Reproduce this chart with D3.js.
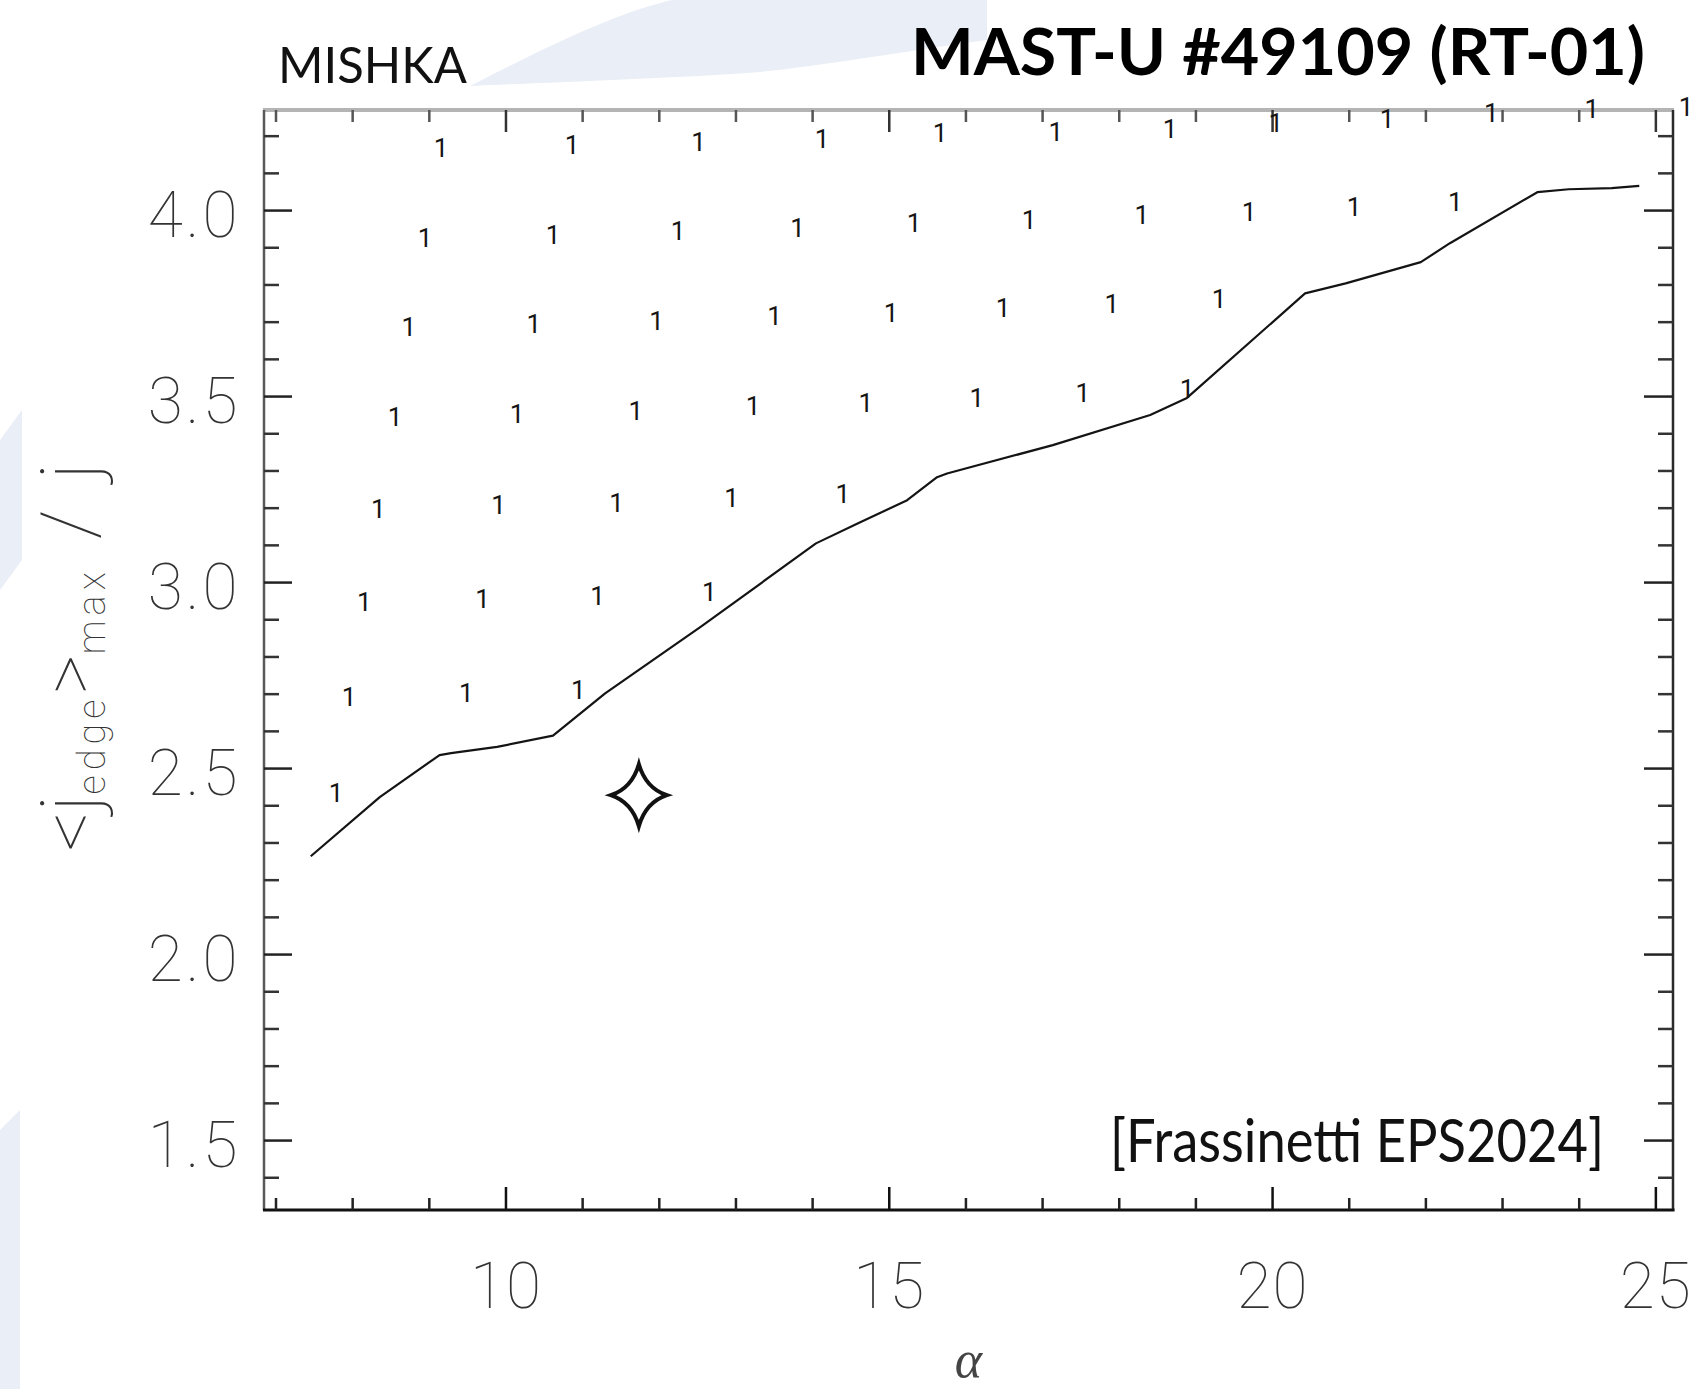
<!DOCTYPE html>
<html>
<head>
<meta charset="utf-8">
<script src="https://cdn.jsdelivr.net/npm/d3@7"></script>
<style>
  html, body { margin: 0; padding: 0; background: #ffffff; }
  svg { display: block; }
</style>
</head>
<body>
<svg id="chart" width="1692" height="1389"></svg>
<script>
// MISHKA peeling-ballooning stability scan, MAST-U #49109 (RT-01)

// Stability boundary: alpha vs <j_edge>_max / j
const boundaryAlpha = [7.46, 8.36, 9.14, 9.29, 9.89, 10.62, 11.30, 12.55, 14.05, 14.60,
                       15.24, 15.63, 15.76, 17.14, 18.41, 18.89, 20.43, 20.96, 21.94, 22.32,
                       23.46, 23.87, 24.43, 24.79];
const boundaryJ     = [2.263, 2.422, 2.535, 2.540, 2.557, 2.587, 2.701, 2.880, 3.104, 3.158,
                       3.220, 3.282, 3.292, 3.368, 3.449, 3.495, 3.776, 3.803, 3.860, 3.911,
                       4.048, 4.056, 4.059, 4.065];

// Unstable scan points (marked "1"), one scan row per line
const unstableAlpha = [
  9.16, 10.87, 12.52, 14.13, 15.67, 17.18, 18.67, 20.05, 21.50, 22.86, 24.17, 25.40,
  8.95, 10.62, 12.25, 13.81, 15.33, 16.83, 18.30, 19.70, 21.07, 22.39,
  8.74, 10.37, 11.97, 13.51, 15.03, 16.49, 17.91, 19.31,
  8.56, 10.15, 11.70, 13.23, 14.70, 16.15, 17.53, 18.89,
  8.34, 9.91, 11.45, 12.95, 14.40,
  8.16, 9.70, 11.20, 12.66,
  7.96, 9.49, 10.95,
  7.79
];
const unstableJ = [
  4.167, 4.175, 4.183, 4.191, 4.207, 4.210, 4.220, 4.234, 4.247, 4.263, 4.274, 4.277,
  3.927, 3.933, 3.944, 3.954, 3.965, 3.973, 3.987, 3.995, 4.008, 4.022,
  3.686, 3.696, 3.704, 3.715, 3.724, 3.737, 3.749, 3.761,
  3.446, 3.454, 3.462, 3.473, 3.481, 3.497, 3.508, 3.519,
  3.198, 3.207, 3.214, 3.226, 3.237,
  2.948, 2.956, 2.963, 2.973,
  2.691, 2.703, 2.712,
  2.433
];
const unstableMark = "1";

// Experimental operating point
const expAlpha = [11.74];
const expJ = [2.427];

// Axes
const xDomain = [6.85, 25.23];
const yDomain = [1.312, 4.269];
const xMajorTicks = [10, 15, 20, 25];
const xMinorTicks = [7, 8, 9, 11, 12, 13, 14, 16, 17, 18, 19, 21, 22, 23, 24];
const yMajorTicks = [1.5, 2.0, 2.5, 3.0, 3.5, 4.0];
const yMinorTicks = [1.4, 1.6, 1.7, 1.8, 1.9, 2.1, 2.2, 2.3, 2.4, 2.6, 2.7, 2.8, 2.9,
                     3.1, 3.2, 3.3, 3.4, 3.6, 3.7, 3.8, 3.9, 4.1, 4.2];

// Texts
const codeLabel = "MISHKA";
const shotTitle = "MAST-U #49109 (RT-01)";
const sourceNote = "[Frassinetti EPS2024]";
const xTitle = "α";

const svg = d3.select("#chart");
const W = 1692, H = 1389;
const plot = { left: 264, right: 1673, top: 110, bottom: 1210 };

svg.append("rect").attr("width", W).attr("height", H).attr("fill", "#ffffff");

// Faint slide backdrop shapes
const bg = svg.append("g").attr("fill", "#eaeef6");
bg.append("path").attr("d", "M470,86 C560,40 620,12 672,0 L987,0 L987,40 C900,52 820,66 760,72 C680,78 560,82 470,86 Z");
bg.append("path").attr("d", "M0,440 L22,410 L22,560 L0,590 Z");
bg.append("path").attr("d", "M0,1130 L20,1110 L20,1389 L0,1389 Z");

const x = d3.scaleLinear().domain(xDomain).range([plot.left, plot.right]);
const y = d3.scaleLinear().domain(yDomain).range([plot.bottom, plot.top]);

const tickFont = "Roboto, 'DejaVu Sans', sans-serif";

// Frame
const frame = svg.append("g").attr("fill", "none");
frame.append("line").attr("x1", plot.left - 1).attr("x2", plot.right + 1)
  .attr("y1", plot.top).attr("y2", plot.top).attr("stroke", "#b4b4b4").attr("stroke-width", 4);
frame.append("line").attr("x1", plot.left).attr("x2", plot.left)
  .attr("y1", plot.top).attr("y2", plot.bottom).attr("stroke", "#5a5a5a").attr("stroke-width", 2.5);
frame.append("line").attr("x1", plot.right).attr("x2", plot.right)
  .attr("y1", plot.top).attr("y2", plot.bottom + 1).attr("stroke", "#2a2a2a").attr("stroke-width", 2.5);
frame.append("line").attr("x1", plot.left - 1).attr("x2", plot.right + 1.5)
  .attr("y1", plot.bottom).attr("y2", plot.bottom).attr("stroke", "#111").attr("stroke-width", 3);

function styleAxis(g, color) {
  g.select(".domain").remove();
  g.selectAll(".tick line").attr("stroke", color).attr("stroke-width", 2.5);
}

// Bottom axis: ticks pointing inward, labels below
svg.append("g").attr("transform", `translate(0,${plot.bottom})`)
  .call(d3.axisBottom(x).tickValues(xMajorTicks).tickSize(-23).tickFormat(d3.format("d")))
  .call(g => styleAxis(g, "#111"))
  .call(g => g.selectAll(".tick text")
    .attr("font-family", tickFont).attr("font-weight", 100).attr("font-size", 64)
    .attr("letter-spacing", 1)
    .attr("fill", "#333").attr("dy", "0em").attr("y", 98));
svg.append("g").attr("transform", `translate(0,${plot.bottom})`)
  .call(d3.axisBottom(x).tickValues(xMinorTicks).tickSize(-12).tickFormat(""))
  .call(g => styleAxis(g, "#222"));

// Top axis
svg.append("g").attr("transform", `translate(0,${plot.top})`)
  .call(d3.axisTop(x).tickValues(xMajorTicks).tickSize(-22).tickFormat(""))
  .call(g => styleAxis(g, "#333"));
svg.append("g").attr("transform", `translate(0,${plot.top})`)
  .call(d3.axisTop(x).tickValues(xMinorTicks).tickSize(-12).tickFormat(""))
  .call(g => styleAxis(g, "#555"));

// Left axis
svg.append("g").attr("transform", `translate(${plot.left},0)`)
  .call(d3.axisLeft(y).tickValues(yMajorTicks).tickSize(-28).tickPadding(23.5).tickFormat(d3.format(".1f")))
  .call(g => styleAxis(g, "#222"))
  .call(g => g.selectAll(".tick text")
    .attr("font-family", tickFont).attr("font-weight", 100).attr("font-size", 64)
    .attr("letter-spacing", 3)
    .attr("fill", "#333").attr("dy", "0.42em"));
svg.append("g").attr("transform", `translate(${plot.left},0)`)
  .call(d3.axisLeft(y).tickValues(yMinorTicks).tickSize(-15).tickFormat(""))
  .call(g => styleAxis(g, "#333"));

// Right axis
svg.append("g").attr("transform", `translate(${plot.right},0)`)
  .call(d3.axisRight(y).tickValues(yMajorTicks).tickSize(-29).tickFormat(""))
  .call(g => styleAxis(g, "#222"));
svg.append("g").attr("transform", `translate(${plot.right},0)`)
  .call(d3.axisRight(y).tickValues(yMinorTicks).tickSize(-15).tickFormat(""))
  .call(g => styleAxis(g, "#333"));

// Stability boundary
const boundary = boundaryAlpha.map((a, i) => [a, boundaryJ[i]]);
svg.append("path")
  .datum(boundary)
  .attr("fill", "none")
  .attr("stroke", "#141414")
  .attr("stroke-width", 2.2)
  .attr("stroke-linejoin", "round")
  .attr("d", d3.line().x(d => x(d[0])).y(d => y(d[1])));

// Unstable points
const unstable = unstableAlpha.map((a, i) => [a, unstableJ[i]]);
svg.append("g")
  .selectAll("text")
  .data(unstable)
  .join("text")
  .attr("x", d => x(d[0]))
  .attr("y", d => y(d[1]))
  .attr("dy", "0.36em")
  .attr("text-anchor", "middle")
  .attr("font-family", "Roboto, 'Liberation Sans', sans-serif")
  .attr("font-size", 26)
  .attr("fill", "#151515")
  .text(unstableMark);

// Experimental point: four-pointed star
function fourStar(rx, ry, c) {
  return `M0,${-ry} Q${c},${-c} ${rx},0 Q${c},${c} 0,${ry} Q${-c},${c} ${-rx},0 Q${-c},${-c} 0,${-ry} Z`;
}
svg.append("g")
  .selectAll("path")
  .data(expAlpha.map((a, i) => [a, expJ[i]]))
  .join("path")
  .attr("transform", d => `translate(${x(d[0])},${y(d[1])})`)
  .attr("d", fourStar(28, 31, 7))
  .attr("fill", "#ffffff")
  .attr("stroke", "#111")
  .attr("stroke-width", 4)
  .attr("stroke-linejoin", "miter");

// Axis titles
svg.append("text")
  .attr("x", (plot.left + plot.right) / 2)
  .attr("y", 1377)
  .attr("text-anchor", "middle")
  .attr("font-family", "'Liberation Serif', 'DejaVu Serif', serif")
  .attr("font-style", "italic")
  .attr("font-size", 52)
  .attr("fill", "#444")
  .text(xTitle);

const yTitle = svg.append("text")
  .attr("transform", `translate(96,${(plot.top + plot.bottom) / 2 - 3}) rotate(-90)`)
  .attr("text-anchor", "middle")
  .attr("font-family", tickFont)
  .attr("font-weight", 100)
  .attr("font-size", 78)
  .attr("fill", "#333");
const sub = { size: 38, shift: "-9px", spacing: 5 };
yTitle.append("tspan").text("<");
yTitle.append("tspan").text("j");
yTitle.append("tspan").attr("font-size", sub.size).attr("baseline-shift", sub.shift)
  .attr("letter-spacing", sub.spacing).text("edge");
yTitle.append("tspan").text(">");
yTitle.append("tspan").attr("font-size", sub.size).attr("baseline-shift", sub.shift)
  .attr("letter-spacing", sub.spacing).text("max");
yTitle.append("tspan").attr("dx", 28).text("/");
yTitle.append("tspan").attr("dx", 30).text("j");

// Slide annotations
svg.append("text")
  .attr("x", 278).attr("y", 83)
  .attr("font-family", "Lato, 'Open Sans', sans-serif")
  .attr("font-size", 50)
  .attr("fill", "#111")
  .attr("textLength", 189).attr("lengthAdjust", "spacingAndGlyphs")
  .text(codeLabel);

svg.append("text")
  .attr("x", 911).attr("y", 75)
  .attr("font-family", "Lato, 'Open Sans', sans-serif")
  .attr("font-weight", 700)
  .attr("font-size", 65)
  .attr("fill", "#000")
  .attr("textLength", 734).attr("lengthAdjust", "spacingAndGlyphs")
  .text(shotTitle);

svg.append("text")
  .attr("x", 1110).attr("y", 1162)
  .attr("font-family", "Lato, 'Open Sans', sans-serif")
  .attr("font-size", 60)
  .attr("fill", "#111")
  .attr("textLength", 494).attr("lengthAdjust", "spacingAndGlyphs")
  .text(sourceNote);
</script>
</body>
</html>
